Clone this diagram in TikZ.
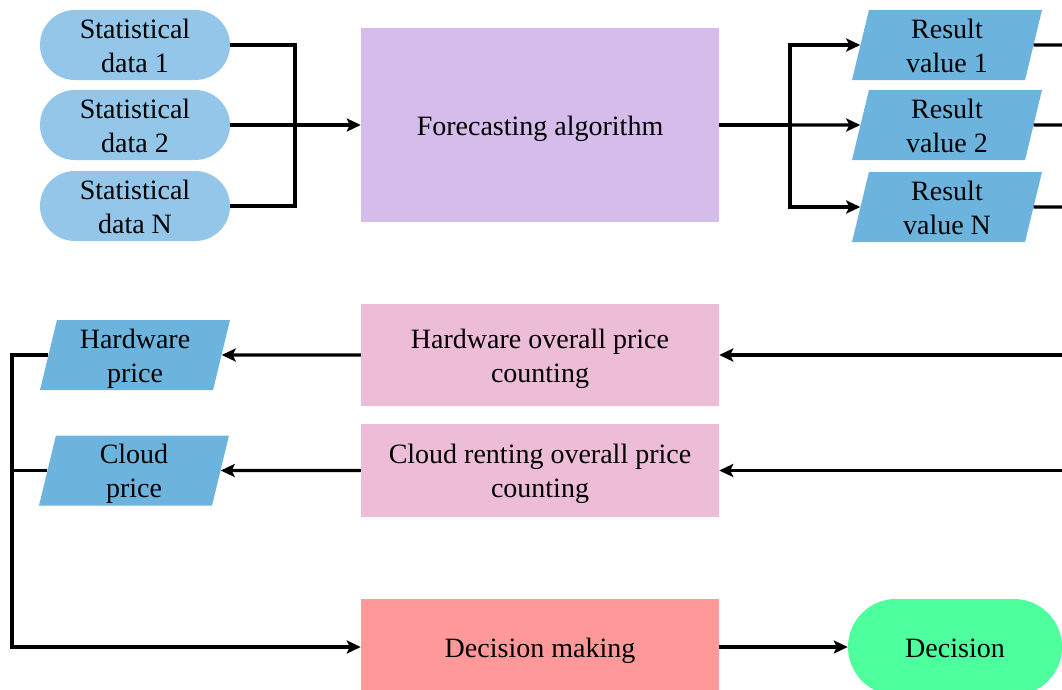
\documentclass[tikz,border=0pt]{standalone}
\usepackage{fontspec}
\setmainfont{Liberation Serif}
\usetikzlibrary{shapes.geometric,arrows.meta}

\definecolor{statblue}{RGB}{147,198,232}
\definecolor{resblue}{RGB}{108,180,221}
\definecolor{algolilac}{RGB}{214,188,235}
\definecolor{pricepink}{RGB}{237,189,216}
\definecolor{decsalmon}{RGB}{255,153,153}
\definecolor{decgreen}{RGB}{77,255,157}

% centred label block, set a little below the geometric centre
\newcommand{\lbl}[1]{\raisebox{-3.5pt}[\height][\depth]{\begin{tabular}{@{}c@{}}#1\end{tabular}}}

\tikzset{
  txt/.style={font=\fontsize{28pt}{34pt}\selectfont, text=black, inner sep=0pt},
  terminal/.style={txt, fill=statblue, minimum width=190pt, minimum height=70pt, rounded corners=34.9pt},
  iobox/.style={txt, trapezium, trapezium left angle=76, trapezium right angle=104,
    trapezium stretches body=true, fill=resblue, minimum width=190pt, minimum height=70pt},
  procbox/.style={txt, rectangle, minimum width=358pt},
  link/.style={line width=3.4pt, line join=miter},
  arrow/.style={link, -{Stealth[length=14pt,width=13pt,inset=3pt]}}
}

\begin{document}
\begin{tikzpicture}[x=1pt, y=-1pt]
\useasboundingbox (0,0) rectangle (1062,689);

% input data
\node[terminal] (sd1) at (135,45) {\lbl{Statistical\\data 1}};
\node[terminal] (sd2) at (135,125) {\lbl{Statistical\\data 2}};
\node[terminal] (sdN) at (135,206) {\lbl{Statistical\\data N}};

% forecasting step
\node[procbox, fill=algolilac, minimum height=194pt] (fa) at (540,125) {\lbl{Forecasting algorithm}};

% forecast results
\node[iobox] (rv1) at (947,45) {\lbl{Result\\value 1}};
\node[iobox] (rv2) at (947,125) {\lbl{Result\\value 2}};
\node[iobox] (rvN) at (947,207) {\lbl{Result\\value N}};

% price counting
\node[procbox, fill=pricepink, minimum height=102pt] (hw) at (540,355) {\lbl{Hardware overall price\\counting}};
\node[procbox, fill=pricepink, minimum height=93pt] (cr) at (540,470.5) {\lbl{Cloud renting overall price\\counting}};

\node[iobox] (hp) at (135,355) {\lbl{Hardware\\price}};
\node[iobox] (cp) at (134,470.5) {\lbl{Cloud\\price}};

% decision
\node[procbox, fill=decsalmon, minimum height=96pt] (dm) at (540,647) {\lbl{Decision making}};
\node[txt, fill=decgreen, minimum width=214pt, minimum height=96pt, rounded corners=47.9pt] (dec) at (955,647) {\lbl{Decision}};

% junction points and free ends
\coordinate (jin) at (295,125);
\coordinate (jout) at (790,125);
\coordinate (o1) at (1062,45);
\coordinate (o2) at (1062,125);
\coordinate (oN) at (1062,207);
\coordinate (i1) at (1062,355);
\coordinate (i2) at (1062,470.5);
\coordinate (bus) at (12,647);

% inputs into the algorithm
\draw[link] (sd1.east) -| (jin) |- (sdN.east);
\draw[arrow] (sd2.east) -- (fa.west);

% algorithm to results
\draw[link] (fa.east) -- (jout);
\draw[arrow] (jout) |- (rv1.west);
\draw[arrow] (jout) -- (rv2.west);
\draw[arrow] (jout) |- (rvN.west);

\draw[link] (rv1.east) -- (o1);
\draw[link] (rv2.east) -- (o2);
\draw[link] (rvN.east) -- (oN);

% results into price counting
\draw[arrow] (i1) -- (hw.east);
\draw[arrow] (i2) -- (cr.east);
\draw[arrow] (hw.west) -- (hp.east);
\draw[arrow] (cr.west) -- (cp.east);

% prices into decision making
\draw[arrow] (hp.west) -| (bus) -- (dm.west);
\draw[link] (cp.west) -- (cp.west -| bus);
\draw[arrow] (dm.east) -- (dec.west);
\end{tikzpicture}
\end{document}
